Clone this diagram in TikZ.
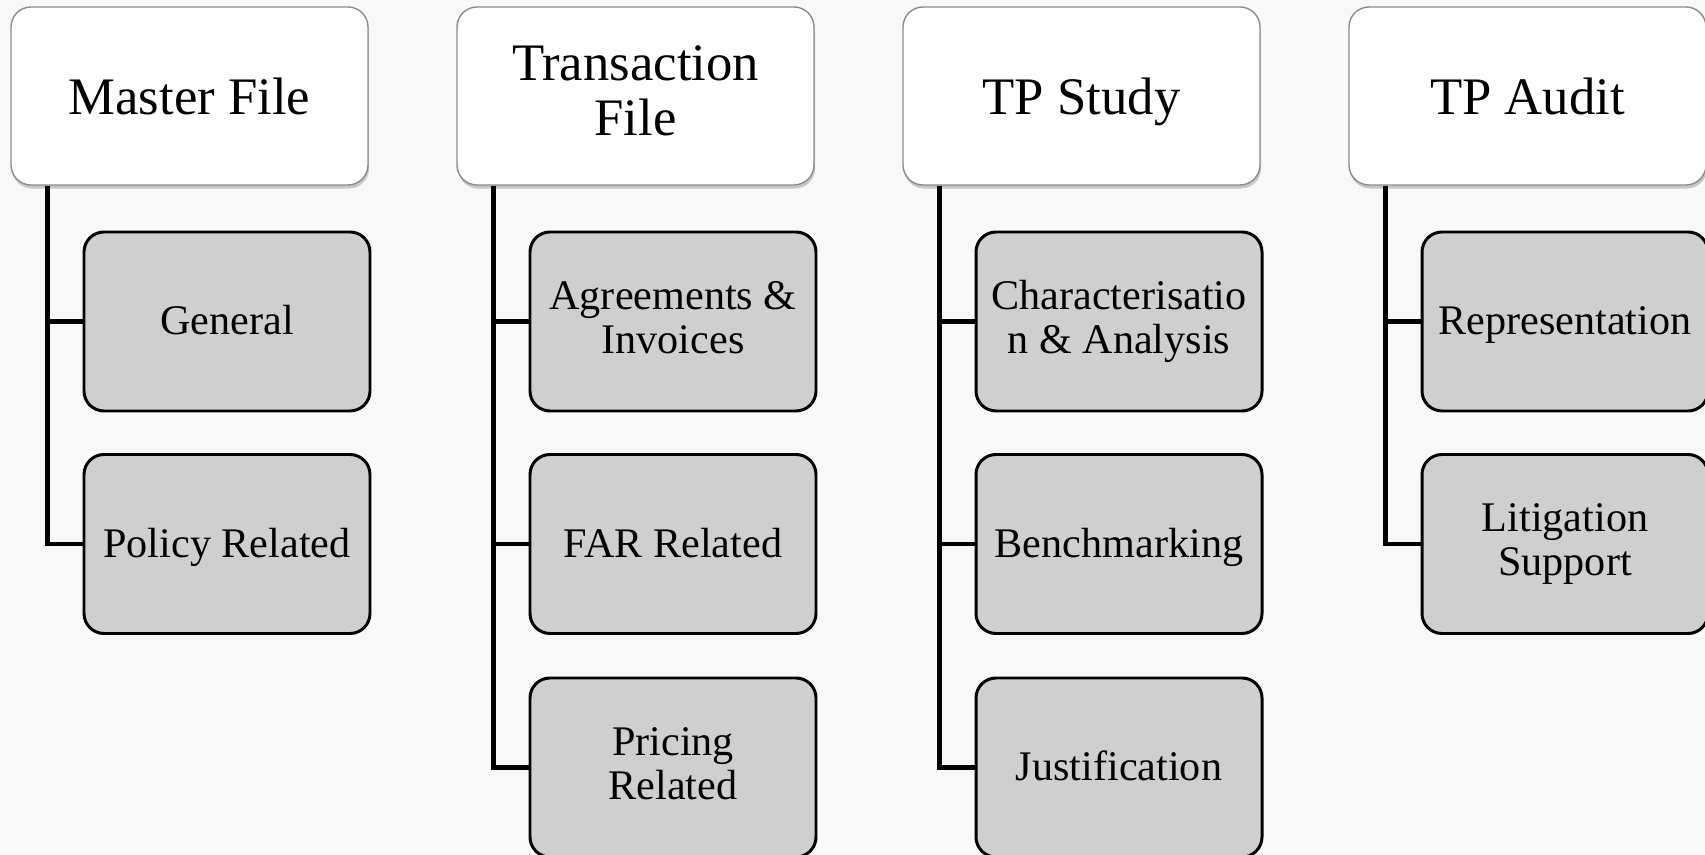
\documentclass[tikz,border=0pt]{standalone}
\usepackage{fontspec}
\setmainfont{Liberation Serif}
\usepackage{xcolor}
\usetikzlibrary{shadows}
\definecolor{bgpage}{RGB}{248,248,248}
\definecolor{boxfill}{RGB}{207,207,207}

\begin{document}
\begin{tikzpicture}
        \tikzstyle{head}=[draw=black!45,line width=0.4pt,fill=white,rounded corners=0.2cm,drop shadow={shadow xshift=0.3pt,shadow yshift=-1pt,opacity=0.4},minimum width=3.57cm,minimum height=1.78cm,align=center,inner sep=2pt,font=\fontsize{15}{15.6}\selectfont,execute at begin node={\rule[-0.2em]{0pt}{1.12em}}]
        \tikzstyle{item}=[draw=black,line width=0.85pt,fill=boxfill,rounded corners=0.2cm,minimum width=2.86cm,minimum height=1.79cm,align=center,inner sep=1pt,font=\fontsize{12}{12.6}\selectfont,execute at begin node={\rule[-0.2em]{0pt}{1.04em}}]
        \tikzstyle{branch}=[draw=black,line width=1.4pt]

        \fill [bgpage] (0, 0) rectangle (17.05, -8.55);
        \useasboundingbox (0, 0) rectangle (17.05, -8.55);

        \draw node at (1.895, -0.96) [head] (mf) {Master File};
        \draw node at (6.355, -0.96) [head] (tf) {Transaction\\File};
        \draw node at (10.815, -0.96) [head] (tps) {TP Study};
        \draw node at (15.275, -0.96) [head] (tpa) {TP Audit};

        \draw node at (2.27, -3.215) [item] (gen) {General};
        \draw node at (2.27, -5.44) [item] (pol) {Policy Related};
        \draw node at (6.73, -3.215) [item] (agr) {Agreements \&\\Invoices};
        \draw node at (6.73, -5.44) [item] (far) {FAR Related};
        \draw node at (6.73, -7.675) [item] (pri) {Pricing\\Related};
        \draw node at (11.19, -3.215) [item] (cha) {Characterisatio\\n \& Analysis};
        \draw node at (11.19, -5.44) [item] (ben) {Benchmarking};
        \draw node at (11.19, -7.675) [item] (jus) {Justification};
        \draw node at (15.65, -3.215) [item] (rep) {Representation};
        \draw node at (15.65, -5.44) [item] (lit) {Litigation\\Support};

        \draw [branch] ([xshift=0.37cm]mf.south west) |- (gen.west);
        \draw [branch] ([xshift=0.37cm]mf.south west) |- (pol.west);
        \draw [branch] ([xshift=0.37cm]tf.south west) |- (agr.west);
        \draw [branch] ([xshift=0.37cm]tf.south west) |- (far.west);
        \draw [branch] ([xshift=0.37cm]tf.south west) |- (pri.west);
        \draw [branch] ([xshift=0.37cm]tps.south west) |- (cha.west);
        \draw [branch] ([xshift=0.37cm]tps.south west) |- (ben.west);
        \draw [branch] ([xshift=0.37cm]tps.south west) |- (jus.west);
        \draw [branch] ([xshift=0.37cm]tpa.south west) |- (rep.west);
        \draw [branch] ([xshift=0.37cm]tpa.south west) |- (lit.west);
    \end{tikzpicture}
\end{document}
